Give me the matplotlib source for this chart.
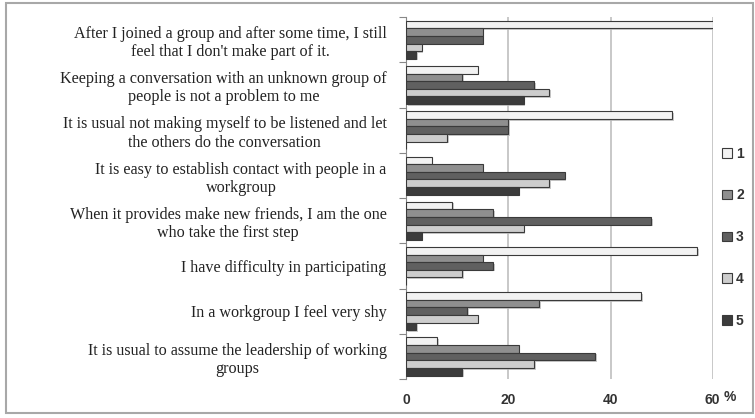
import numpy as np
import matplotlib
matplotlib.use('Agg')
import matplotlib.pyplot as plt
import matplotlib.patheffects as pe
from matplotlib.patches import Rectangle

# statements, top to bottom as shown
statements = [
    "After I joined a group and after some time, I still\nfeel that I don't make part of it.",
    "Keeping a conversation with an unknown group of\npeople is not a problem to me",
    "It is usual not making myself to be listened and let\nthe others do the conversation",
    "It is easy to establish contact with people in a\nworkgroup",
    "When it provides make new friends, I am the one\nwho take the first step",
    "I have difficulty in participating",
    "In a workgroup I feel very shy",
    "It is usual to assume the leadership of working\ngroups",
]

# percentages per answer level (same order as statements)
level1 = [60, 14, 52, 5, 9, 57, 46, 6]
level2 = [15, 11, 20, 15, 17, 15, 26, 22]
level3 = [15, 25, 20, 31, 48, 17, 12, 37]
level4 = [3, 28, 8, 28, 23, 11, 14, 25]
level5 = [2, 23, 0, 22, 3, 0, 2, 11]

levels = ['1', '2', '3', '4', '5']
colors = ['#f2f2f2', '#8f8f8f', '#606060', '#cdcdcd', '#3c3c3c']
xticks = [0, 20, 40, 60]

fig = plt.figure(figsize=(7.55, 4.18), dpi=100)
fig.patches.append(Rectangle((0.008, 0.012), 0.989, 0.98, transform=fig.transFigure,
                             fill=False, edgecolor='#a8a8a8', lw=1.5))

ax = fig.add_axes([0.538, 0.093, 0.406, 0.866])

data = [level1, level2, level3, level4, level5]
n = len(statements)
y = np.arange(n)
h = 0.168
shadow = [pe.SimplePatchShadow(offset=(1.2, -1.2), shadow_rgbFace='#bdbdbd', alpha=0.8), pe.Normal()]
for i, vals in enumerate(data):
    off = (i - 2) * h
    bars = ax.barh(y + off, vals, height=h, color=colors[i], edgecolor='#3a3a3a',
                   linewidth=0.8, label=levels[i], zorder=3)
    for b in bars:
        b.set_path_effects(shadow)

ax.set_ylim(n - 0.5, -0.5)
ax.set_xlim(0, 60)
ax.set_yticks(np.arange(n + 1) - 0.5, minor=False)
ax.set_yticklabels([])
ax.set_yticks(y, minor=True)
ax.set_yticklabels(statements, minor=True, fontfamily='Liberation Serif', fontsize=11.6,
                   multialignment='center', color='#222222', linespacing=1.2)
ax.tick_params(axis='y', which='minor', length=0, pad=14)
ax.tick_params(axis='y', which='major', length=5, color='#888888', direction='out')

ax.set_xticks(xticks)
ax.set_xticklabels([str(t) for t in xticks], fontfamily='Liberation Sans', fontweight='bold',
                   fontsize=10, color='#333333')
ax.tick_params(axis='x', length=0, pad=10)
ax.grid(axis='x', color='#bfbfbf', lw=1.2, zorder=0)
for s in ['top', 'bottom', 'right']:
    ax.spines[s].set_visible(False)
ax.spines['left'].set_color('#888888')
ax.text(1.035, -0.05, '%', transform=ax.transAxes, ha='left', va='center',
        fontfamily='Liberation Sans', fontweight='bold', fontsize=10, color='#333333')

leg = ax.legend(loc='center left', bbox_to_anchor=(0.99, 0.392), frameon=False,
                handlelength=0.7, handleheight=0.7, handletextpad=0.3, labelspacing=2.0,
                prop={'family': 'Liberation Sans', 'weight': 'bold', 'size': 10})
for t in leg.get_texts():
    t.set_color('#333333')
for hdl in leg.legend_handles:
    hdl.set_path_effects([])

fig.savefig('out.png', dpi=100)
